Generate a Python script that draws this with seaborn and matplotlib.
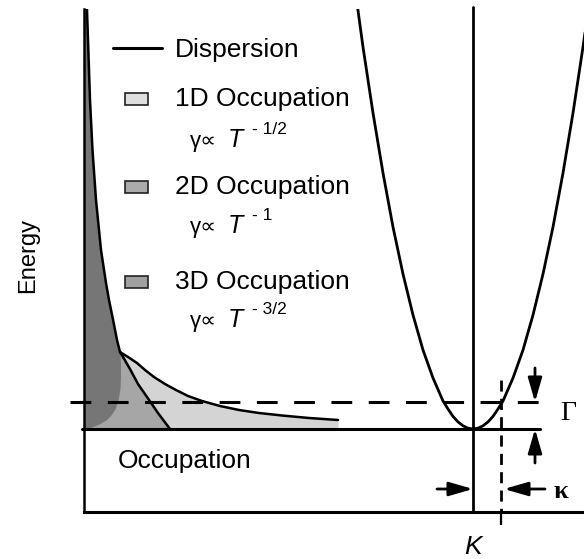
import matplotlib
matplotlib.use("Agg")
import matplotlib.pyplot as plt
from matplotlib.patches import Rectangle
import seaborn as sns

# ---- scale and band parameters (arbitrary units) ----
K_POINT = 389          # wavevector of the band minimum
GAMMA = 27             # broadening energy (dashed level)
KAPPA = 28             # wavevector spread
E_BOTTOM, E_TOP = -83, 420
X_MAX = 500

# ---- parabolic dispersion around K ----
dispersion_k = [269, 279, 289, 299, 309, 319, 329, 339, 349, 359, 364, 369, 374, 379, 384,
                389, 394, 399, 404, 409, 414, 419, 429, 439, 449, 459, 469, 479, 489, 499, 509]
dispersion_energy = [455, 382, 316, 256, 202, 155, 114, 79, 51, 28, 20, 12.6, 7.1, 3.2, 0.8,
                     0, 0.8, 3.2, 7.1, 12.6, 20, 28, 51, 79, 114, 155, 202, 256, 316, 382, 455]

# ---- occupation curves (occupation on x, energy on y) ----
# high-energy tail shared by all three cases
tail_energy = [430, 419, 329, 279, 229, 179, 146, 129, 112, 89, 79, 77]
tail_occ = [2.5, 3, 6, 8.5, 12, 17, 22, 25, 28.5, 33, 35.5, 36]
# low-energy parts
occ1d_energy = [72, 66, 59, 52, 45, 39, 33, 28, 23, 19, 16, 13.5, 11, 9]
occ1d_occ = [44, 53, 61, 70, 81, 92, 104, 118, 136, 155, 175, 198, 225, 254]
occ2d_energy = [72, 60, 45, 32, 16, 0]
occ2d_occ = [39, 46, 54, 63, 74, 86]
occ3d_energy = [65, 52, 40, 29, 20, 14, 9, 5, 2, 0]
occ3d_occ = [36.5, 36.5, 36, 34, 31, 27, 22, 15, 8, 0]

labels = ["Dispersion", "1D Occupation", "2D Occupation", "3D Occupation"]
exponents = ["- 1/2", "- 1", "- 3/2"]
fill_colors = ["#d4d4d4", "#a6a6a6", "#767676"]
box_colors = ["#dedede", "#ababab", "#a0a0a0"]

sns.set_theme(style="ticks")
plt.rcParams["font.family"] = ["Liberation Sans", "DejaVu Sans"]
plt.rcParams["text.color"] = "black"
plt.rcParams["axes.labelcolor"] = "black"
SERIF = ["Liberation Serif", "DejaVu Serif"]

fig = plt.figure(figsize=(5.84, 5.59), dpi=100)
ax = fig.add_axes([84 / 584, 47 / 559, 500 / 584, 503 / 559])
ax.set_xlim(0, X_MAX)
ax.set_ylim(E_BOTTOM, E_TOP)

# ---- occupation fills: 1D (light) under 2D under 3D (dark) ----
e1 = tail_energy + occ1d_energy + [0]
x1 = tail_occ + occ1d_occ + [occ1d_occ[-1]]
e2 = tail_energy + occ2d_energy
x2 = tail_occ + occ2d_occ
e3 = tail_energy + occ3d_energy
x3 = tail_occ + occ3d_occ
for e, x, c in zip([e1, e2, e3], [x1, x2, x3], fill_colors):
    ax.fill_betweenx(e, 0, x, color=c, lw=0, zorder=1)

# outlines of the occupation curves
sns.lineplot(x=tail_occ, y=tail_energy, sort=False, estimator=None, color="black",
             lw=1.8, ax=ax, zorder=4)
sns.lineplot(x=[tail_occ[-1]] + occ1d_occ, y=[tail_energy[-1]] + occ1d_energy, sort=False,
             estimator=None, color="black", lw=1.8, ax=ax, zorder=4)
sns.lineplot(x=[tail_occ[-1]] + occ2d_occ, y=[tail_energy[-1]] + occ2d_energy, sort=False,
             estimator=None, color="black", lw=1.8, ax=ax, zorder=4)

# ---- dispersion ----
sns.lineplot(x=dispersion_k, y=dispersion_energy, sort=False, estimator=None, color="black",
             lw=2.0, ax=ax, zorder=4)

# band bottom, broadening level, K and K + kappa
ax.plot([-2, K_POINT + 67], [0, 0], color="black", lw=2.2, clip_on=False, zorder=5)
ax.plot([-14, K_POINT + 67], [GAMMA, GAMMA], color="black", lw=2.2,
        linestyle=(0, (6.8, 5.4)), dash_capstyle="butt", clip_on=False, zorder=3)
ax.plot([K_POINT, K_POINT], [E_BOTTOM, E_TOP + 2], color="black", lw=2.0, clip_on=False, zorder=5)
ax.plot([K_POINT + KAPPA, K_POINT + KAPPA], [49, E_BOTTOM], color="black", lw=2.0,
        linestyle=(0, (4.0, 2.6)), dash_capstyle="butt", zorder=5)

# ---- axes ----
sns.despine(ax=ax)
ax.spines["left"].set_linewidth(1.8)
ax.spines["bottom"].set_linewidth(2.2)
ax.spines["left"].set_color("black")
ax.spines["bottom"].set_color("black")
ax.set_xticks([K_POINT + KAPPA])
ax.set_xticklabels([""])
ax.set_yticks([])
ax.tick_params(axis="x", bottom=True, length=9.4, width=1.6, direction="out", color="black")
ax.set_ylabel("Energy", fontsize=17, color="black")
ax.yaxis.set_label_coords(-0.09, 0.51)
ax.text(K_POINT, -118, "K", style="italic", fontsize=19, ha="center", va="center")
ax.text(34, -32, "Occupation", fontsize=19, ha="left", va="center")

# ---- Gamma and kappa markers ----
arrow = dict(arrowstyle="-|>,head_length=1.45,head_width=0.42", color="black", lw=2.0,
             shrinkA=0, shrinkB=0, mutation_scale=10)
ax.annotate("", xy=(451, GAMMA), xytext=(451, 61), arrowprops=arrow, annotation_clip=False)
ax.annotate("", xy=(451, 0), xytext=(451, -34), arrowprops=arrow, annotation_clip=False)
ax.annotate("", xy=(K_POINT, -60), xytext=(K_POINT - 36, -60), arrowprops=arrow,
            annotation_clip=False)
ax.annotate("", xy=(K_POINT + KAPPA + 3, -60), xytext=(K_POINT + KAPPA + 44, -60),
            arrowprops=arrow, annotation_clip=False)
ax.text(484, 15, "Γ", family=SERIF, fontsize=20, ha="center", va="center")
ax.text(477, -62, "κ", family=SERIF, fontsize=19, fontweight="bold", ha="center", va="center")

# ---- key ----
ax.plot([29, 78], [381, 381], color="black", lw=2.2)
ax.text(91, 379, labels[0], fontsize=19, ha="left", va="center")
rows = [(330, 282), (242, 196), (147, 102)]
for (e_lab, e_gam), lab, expo, bc in zip(rows, labels[1:], exponents, box_colors):
    ax.add_patch(Rectangle((41, e_lab - 6), 23, 12, facecolor=bc, edgecolor="#222222",
                           lw=1.2, zorder=6))
    ax.text(91, e_lab, lab, fontsize=19, ha="left", va="center", zorder=6)
    ax.text(106, e_gam, "γ∝", fontsize=16, ha="left", va="baseline", zorder=6)
    ax.text(144, e_gam, "T", fontsize=18, style="italic", ha="left", va="baseline", zorder=6)
    ax.text(168, e_gam + 13, expo, fontsize=12.5, ha="left", va="baseline", zorder=6)

fig.savefig("out.png", dpi=100, facecolor="white")
